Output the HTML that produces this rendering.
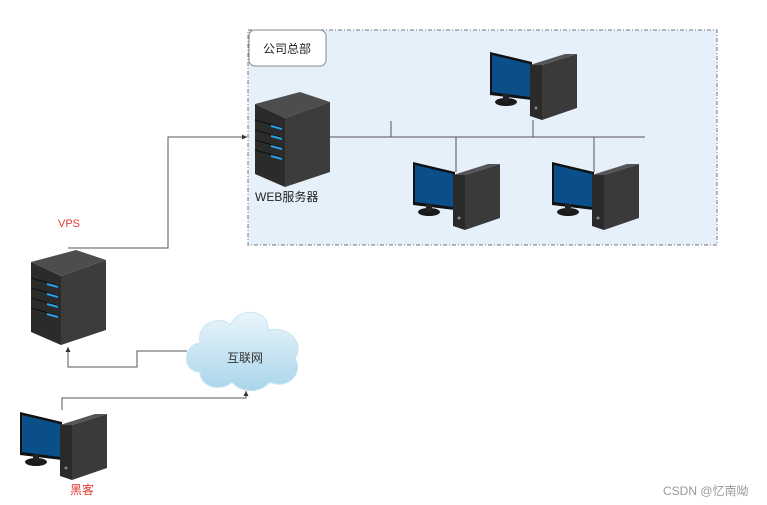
<!DOCTYPE html>
<html><head><meta charset="utf-8"><style>
html,body{margin:0;padding:0;background:#fff;}
svg{display:block;}
text{font-family:"Liberation Sans","Noto Sans CJK SC",sans-serif;}
</style></head><body>
<svg width="767" height="505" viewBox="0 0 767 505" xmlns="http://www.w3.org/2000/svg">
<defs>
<marker id="ar" markerWidth="6" markerHeight="6" refX="5" refY="3" orient="auto"><path d="M0,0.5 L5,3 L0,5.5z" fill="#333"/></marker>
<g id="pc">
 <polygon points="0,2 42,12 42,50 0,45" fill="#111"/>
 <polygon points="2,5 40,14 40,47 2,42" fill="#0a4f8a"/>
 <ellipse cx="16" cy="52" rx="11" ry="4" fill="#1a1a1a"/>
 <rect x="13" y="44" width="6" height="8" fill="#222"/>
 <polygon points="40,15 52,15 52,70 40,66" fill="#2a2a2a"/>
 <polygon points="52,15 87,4 87,58 52,70" fill="#3a3a3a"/>
 <polygon points="40,15 75,4 87,4 52,15" fill="#555"/>
 <circle cx="46" cy="58" r="1.5" fill="#888"/>
</g>
<g id="srv">
 <polygon points="0,12 30,26 30,95 0,82" fill="#2b2b2b"/>
 <polygon points="30,26 75,10 75,80 30,95" fill="#3c3c3c"/>
 <polygon points="0,12 45,0 75,10 30,26" fill="#4d4d4d"/>
 <g stroke="#111" stroke-width="1"><line x1="0" y1="28" x2="28" y2="36"/><line x1="0" y1="38" x2="28" y2="46"/><line x1="0" y1="48" x2="28" y2="56"/><line x1="0" y1="58" x2="28" y2="66"/></g>
 <g stroke="#2aa0e8" stroke-width="2"><line x1="16" y1="34" x2="27" y2="37"/><line x1="16" y1="44" x2="27" y2="47"/><line x1="16" y1="54" x2="27" y2="57"/><line x1="16" y1="64" x2="27" y2="67"/></g>
</g>
<linearGradient id="cl" x1="0" y1="0" x2="0" y2="1"><stop offset="0" stop-color="#eaf5fb"/><stop offset="1" stop-color="#a9d5ea"/></linearGradient>
</defs>
<rect x="248" y="30" width="469" height="215" fill="#e6f0fb" stroke="#777" stroke-dasharray="4,2,1,2"/>
<rect x="249" y="30" width="77" height="36" rx="6" fill="#fff" stroke="#888"/>
<text x="287" y="53" font-size="12" text-anchor="middle" fill="#222">公司总部</text>
<g stroke="#555" stroke-width="1" fill="none">
 <line x1="330" y1="137" x2="645" y2="137"/>
 <line x1="391" y1="121" x2="391" y2="137"/>
 <line x1="533" y1="120" x2="533" y2="137"/>
 <line x1="456" y1="137" x2="456" y2="172"/>
 <line x1="594" y1="137" x2="594" y2="172"/>
 <polyline points="68,248 168,248 168,137 247,137" marker-end="url(#ar)"/>
 <polyline points="187,351 137,351 137,367 68,367 68,347" marker-end="url(#ar)"/>
 <polyline points="62,410 62,398 246,398 246,391" marker-end="url(#ar)"/>
</g>
<use href="#srv" x="255" y="92"/>
<use href="#srv" x="31" y="250"/>
<use href="#pc" x="490" y="50"/>
<use href="#pc" x="413" y="160"/>
<use href="#pc" x="552" y="160"/>
<use href="#pc" x="20" y="410"/>
<path d="M200,372 C182,372 182,345 200,343 C196,322 222,315 230,325 C240,305 270,310 268,330 C290,325 305,345 295,358 C305,375 285,390 270,382 C258,395 240,392 232,382 C222,392 200,388 200,372z" fill="url(#cl)" stroke="#c8e4f2"/>
<text x="245" y="362" font-size="12" text-anchor="middle" fill="#333">互联网</text>
<text x="255" y="201" font-size="12" fill="#222">WEB服务器</text>
<text x="58" y="227" font-size="11" fill="#e53935">VPS</text>
<text x="70" y="494" font-size="12" fill="#e53935">黑客</text>
<text x="663" y="495" font-size="12" fill="#999">CSDN @忆南呦</text>
</svg>
</body></html>
